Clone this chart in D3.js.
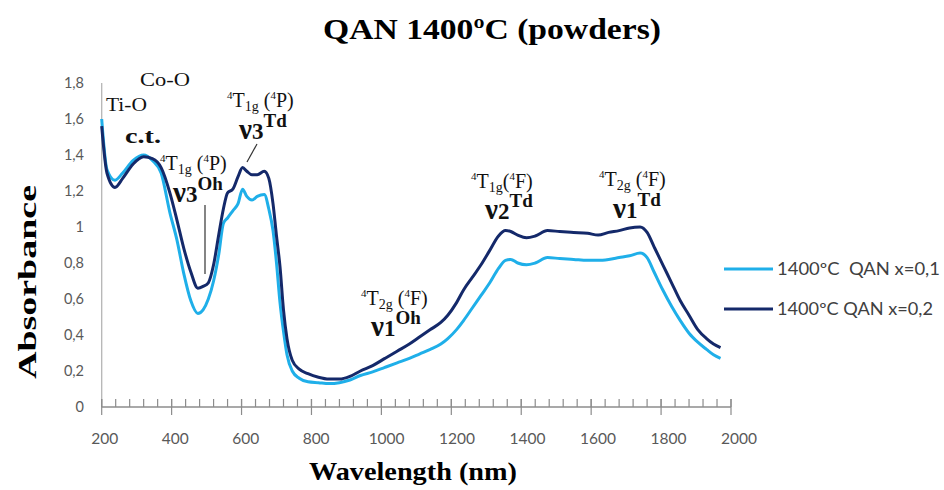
<!DOCTYPE html>
<html>
<head>
<meta charset="utf-8">
<script src="https://cdn.jsdelivr.net/npm/d3@7"></script>
<style>
  html, body { margin: 0; padding: 0; background: #fff; }
  svg { display: block; }
  .serif { font-family: "Liberation Serif", "Times New Roman", serif; }
  .sans { font-family: Lato, "Liberation Sans", sans-serif; }
</style>
</head>
<body>
<svg id="chart" width="944" height="490"></svg>
<script>
// Wavelength grid (nm)
const wavelength = [200, 215, 238, 260, 290, 320, 345, 370, 395, 415, 435, 455, 475, 490, 505, 520, 535, 548, 560, 575,
  590, 603, 615, 630, 645, 665, 678, 690, 700, 710, 720, 730, 745, 765, 790, 820, 850, 880, 910, 940,
  975, 1010, 1045, 1080, 1110, 1140, 1170, 1190, 1215, 1235, 1260, 1285, 1310, 1335, 1355, 1370, 1390, 1415, 1440, 1475,
  1510, 1550, 1590, 1620, 1650, 1680, 1710, 1740, 1760, 1780, 1805, 1830, 1855, 1880, 1905, 1930, 1950, 1970];

// Absorbance, 1400ºC QAN x=0,1
const absX01 = [1.60, 1.32, 1.26, 1.30, 1.37, 1.40, 1.37, 1.30, 1.08, 0.93, 0.74, 0.59, 0.52, 0.54, 0.60, 0.70, 0.85, 1.02, 1.05, 1.09,
  1.13, 1.21, 1.17, 1.15, 1.17, 1.18, 1.10, 0.98, 0.80, 0.58, 0.42, 0.29, 0.20, 0.16, 0.14, 0.135, 0.13, 0.135, 0.15, 0.175,
  0.195, 0.22, 0.245, 0.27, 0.295, 0.32, 0.35, 0.38, 0.43, 0.48, 0.55, 0.62, 0.69, 0.77, 0.815, 0.82, 0.80, 0.79, 0.80, 0.83,
  0.825, 0.82, 0.815, 0.815, 0.82, 0.83, 0.84, 0.855, 0.83, 0.75, 0.65, 0.56, 0.48, 0.41, 0.36, 0.32, 0.29, 0.27];

// Absorbance, 1400ºC QAN x=0,2
const absX02 = [1.56, 1.30, 1.22, 1.27, 1.35, 1.39, 1.38, 1.33, 1.19, 1.04, 0.88, 0.75, 0.66, 0.67, 0.69, 0.79, 0.96, 1.10, 1.19, 1.21,
  1.28, 1.33, 1.31, 1.29, 1.29, 1.31, 1.27, 1.13, 0.95, 0.78, 0.54, 0.38, 0.26, 0.21, 0.185, 0.165, 0.155, 0.155, 0.17, 0.20,
  0.23, 0.27, 0.31, 0.35, 0.39, 0.43, 0.47, 0.51, 0.58, 0.65, 0.72, 0.79, 0.87, 0.95, 0.98, 0.975, 0.955, 0.94, 0.95, 0.98,
  0.975, 0.97, 0.965, 0.955, 0.97, 0.98, 0.995, 1.00, 0.97, 0.89, 0.79, 0.69, 0.59, 0.51, 0.43, 0.38, 0.35, 0.33];

const seriesNames = ["1400ºC  QAN x=0,1", "1400ºC QAN x=0,2"];
const seriesColors = ["#1fafe9", "#14296a"];

const xTicks = [200, 400, 600, 800, 1000, 1200, 1400, 1600, 1800, 2000];
const yTicks = [0, 0.2, 0.4, 0.6, 0.8, 1, 1.2, 1.4, 1.6, 1.8];
const yTickLabels = ["0", "0,2", "0,4", "0,6", "0,8", "1", "1,2", "1,4", "1,6", "1,8"];

const svg = d3.select("#chart");
const x = d3.scaleLinear().domain([200, 2000]).range([101.7, 731]);
const y = d3.scaleLinear().domain([0, 1.8]).range([407, 83]);

// Title
svg.append("text").attr("class", "serif")
  .attr("x", 492).attr("y", 39).attr("text-anchor", "middle")
  .attr("font-size", 30).attr("font-weight", "bold").attr("fill", "#000")
  .attr("textLength", 338).attr("lengthAdjust", "spacingAndGlyphs")
  .text("QAN 1400ºC (powders)");

// Y axis: line + labels, no tick marks
svg.append("line").attr("x1", x(200)).attr("x2", x(200)).attr("y1", y(1.8)).attr("y2", y(0))
  .attr("stroke", "#b5b5b5").attr("stroke-width", 1.3);
svg.append("g").selectAll("text").data(yTicks).join("text")
  .attr("class", "sans")
  .attr("x", 84).attr("y", d => y(d) + 5)
  .attr("text-anchor", "end").attr("font-size", 14.5).attr("fill", "#595959")
  .text((d, i) => yTickLabels[i]);

// X axis: line, minor ticks (every 40 nm, upward), major ticks (crossing)
const xAxis = svg.append("g");
xAxis.append("line").attr("x1", x(200)).attr("x2", x(2000)).attr("y1", y(0)).attr("y2", y(0))
  .attr("stroke", "#8c8c8c").attr("stroke-width", 1.3);
xAxis.selectAll("line.minor").data(d3.range(200, 2001, 40)).join("line")
  .attr("class", "minor")
  .attr("x1", d => x(d)).attr("x2", d => x(d)).attr("y1", y(0) - 8).attr("y2", y(0))
  .attr("stroke", "#8c8c8c").attr("stroke-width", 1.2);
xAxis.selectAll("line.major").data(xTicks).join("line")
  .attr("class", "major")
  .attr("x1", d => x(d)).attr("x2", d => x(d)).attr("y1", y(0) - 8).attr("y2", y(0) + 8)
  .attr("stroke", "#8c8c8c").attr("stroke-width", 1.2);
xAxis.selectAll("text").data(xTicks).join("text")
  .attr("class", "sans")
  .attr("x", d => x(d) + 3 + 5 * (d - 200) / 1800).attr("y", 444)
  .attr("text-anchor", "middle").attr("font-size", 15.5).attr("fill", "#595959")
  .text(d => d);

// Axis titles
svg.append("text").attr("class", "serif")
  .attr("transform", "translate(36,282) rotate(-90)")
  .attr("text-anchor", "middle").attr("font-size", 25).attr("font-weight", "bold")
  .attr("textLength", 194).attr("lengthAdjust", "spacingAndGlyphs")
  .text("Absorbance");
svg.append("text").attr("class", "serif")
  .attr("x", 413).attr("y", 480).attr("text-anchor", "middle")
  .attr("font-size", 25).attr("font-weight", "bold")
  .attr("textLength", 208).attr("lengthAdjust", "spacingAndGlyphs")
  .text("Wavelength (nm)");

// Spectra
const line = d3.line().x(d => x(d[0])).y(d => y(d[1])).curve(d3.curveMonotoneX);
[absX01, absX02].forEach((vals, i) => {
  svg.append("path")
    .datum(wavelength.map((w, k) => [w, vals[k]]))
    .attr("d", line)
    .attr("fill", "none")
    .attr("stroke", seriesColors[i])
    .attr("stroke-width", 3)
    .attr("stroke-linejoin", "round");
});

// Legend
const legend = svg.append("g");
const legendWidths = [163, 156];
seriesNames.forEach((name, i) => {
  const ly = 269 + i * 40;
  legend.append("line").attr("x1", 724).attr("x2", 773).attr("y1", ly).attr("y2", ly)
    .attr("stroke", seriesColors[i]).attr("stroke-width", 3);
  legend.append("text").attr("class", "sans")
    .attr("x", 777).attr("y", ly + 6).attr("font-size", 17).attr("fill", "#404040")
    .attr("textLength", legendWidths[i]).attr("lengthAdjust", "spacingAndGlyphs")
    .style("white-space", "pre")
    .text(name);
});

// Band annotations
const ann = svg.append("g").attr("class", "serif").attr("fill", "#111");

function plainLabel(text, px, py, size, bold, len) {
  ann.append("text").attr("x", px).attr("y", py).attr("font-size", size)
    .attr("font-weight", bold ? "bold" : "normal")
    .attr("textLength", len).attr("lengthAdjust", "spacingAndGlyphs")
    .text(text);
}

// term symbol like  ⁴T₁g (⁴P)
function termLabel(px, py, sub, state, gap) {
  const t = ann.append("text").attr("x", px).attr("y", py).attr("font-size", 20);
  t.append("tspan").attr("font-size", 11).attr("dy", -8).text("4");
  t.append("tspan").attr("dy", 8).text("T");
  t.append("tspan").attr("font-size", 14).attr("dy", 4).text(sub);
  t.append("tspan").attr("dy", -4).text(gap ? " (" : "(");
  t.append("tspan").attr("font-size", 11).attr("dy", -8).text("4");
  t.append("tspan").attr("dy", 8).text(state + ")");
}

// band label like  ν3^Td
function nuLabel(px, py, idx, sup) {
  const t = ann.append("text").attr("x", px).attr("y", py).attr("font-weight", "bold");
  t.append("tspan").attr("font-size", 29).text("ν");
  t.append("tspan").attr("font-size", 23).text(idx);
  t.append("tspan").attr("font-size", 19).attr("dy", -12).text(sup);
}

plainLabel("Co-O", 140, 86, 19, false, 50);
plainLabel("Ti-O", 106, 111, 19, false, 41);
plainLabel("c.t.", 125, 143, 21, true, 36);

termLabel(160, 170, "1g", "P", true);
nuLabel(173, 202, "3", "Oh");
termLabel(227, 107, "1g", "P", true);
nuLabel(239, 139, "3", "Td");
termLabel(361, 305, "2g", "F", true);
nuLabel(371, 336, "1", "Oh");
termLabel(471, 188, "1g", "F", false);
nuLabel(485, 219, "2", "Td");
termLabel(599, 186, "2g", "F", true);
nuLabel(613, 218, "1", "Td");

// Leader lines to the ν3 bands
ann.append("line").attr("x1", 205).attr("x2", 205).attr("y1", 205).attr("y2", 274)
  .attr("stroke", "#333").attr("stroke-width", 1.2);
ann.append("line").attr("x1", 257).attr("x2", 247).attr("y1", 144).attr("y2", 162)
  .attr("stroke", "#333").attr("stroke-width", 1.2);
</script>
</body>
</html>
